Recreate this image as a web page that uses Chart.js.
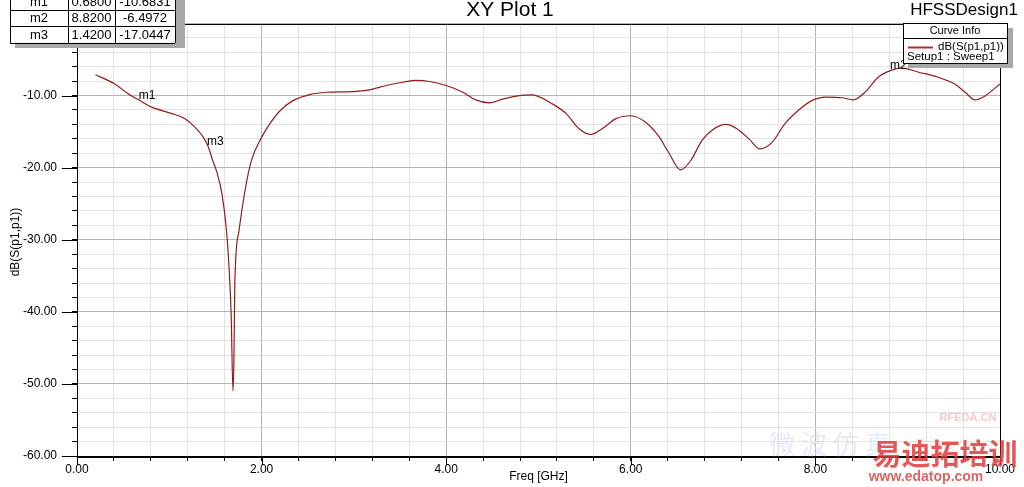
<!DOCTYPE html>
<html>
<head>
<meta charset="utf-8">
<script src="https://cdn.jsdelivr.net/npm/chart.js@4/dist/chart.umd.min.js"></script>
<style>
  body { margin: 0; background: #fff; }
  canvas { display: block; }
</style>
</head>
<body>
<canvas id="xy-plot" width="1024" height="487"></canvas>
<script>
// S11 curve
const freqGHz = [0.20, 0.41, 0.55, 0.68, 0.81, 1.03, 1.17, 1.28, 1.37, 1.42, 1.47, 1.51, 1.57, 1.62, 1.655, 1.67, 1.69, 1.70, 1.71, 1.755, 1.82, 1.89, 2.00, 2.09, 2.20, 2.34, 2.52, 2.70, 2.99, 3.17, 3.35, 3.53, 3.67, 3.82, 4.00, 4.18, 4.32, 4.47, 4.61, 4.79, 4.93, 5.15, 5.30, 5.44, 5.57, 5.69, 5.84, 6.00, 6.16, 6.30, 6.41, 6.54, 6.65, 6.77, 6.88, 7.03, 7.15, 7.28, 7.40, 7.53, 7.67, 7.82, 7.96, 8.11, 8.29, 8.41, 8.54, 8.68, 8.82, 8.93, 9.12, 9.33, 9.51, 9.62, 9.73, 9.82, 10.0]
const s11dB = [-7.1, -8.4, -9.7, -10.68, -11.6, -12.5, -13.2, -14.4, -15.8, -17.04, -19.0, -20.4, -23.6, -28.75, -35.7, -40.3, -51.0, -46.8, -36.0, -28.75, -23.2, -19.0, -15.8, -13.9, -12.1, -10.7, -9.86, -9.54, -9.44, -9.2, -8.6, -8.15, -7.9, -8.05, -8.6, -9.54, -10.6, -11.0, -10.5, -10.0, -9.9, -11.15, -12.5, -14.6, -15.4, -14.6, -13.2, -12.8, -13.7, -15.6, -17.9, -20.3, -19.0, -16.25, -14.8, -14.0, -14.6, -16.0, -17.4, -16.5, -13.9, -12.0, -10.7, -10.2, -10.3, -10.6, -9.5, -7.45, -6.5, -6.15, -6.76, -7.45, -8.4, -9.5, -10.6, -10.2, -8.4]

// markers
const markerNames = ['m1', 'm2', 'm3']
const markerFreq = [0.68, 8.82, 1.42]
const markerDB = [-10.6831, -6.4972, -17.0447]

const FONT = '"Liberation Sans", Arial, sans-serif'
const curveColor = '#931c1c'

const isMajorX = v => Math.abs(v / 2 - Math.round(v / 2)) < 1e-6
const isMajorY = v => Math.abs(v / 10 - Math.round(v / 10)) < 1e-6

const overlay = {
    id: 'overlay',
    afterDraw(chart) {
        const { ctx, chartArea: a, scales: { x, y } } = chart
        ctx.save()

        // frame + long major ticks
        ctx.strokeStyle = '#000'
        ctx.lineWidth = 1
        ctx.strokeRect(Math.round(a.left) + 0.5, Math.round(a.top) + 0.5, Math.round(a.right - a.left), Math.round(a.bottom - a.top))
        ctx.beginPath()
        for (let v = 0; v <= 10; v += 2) {
            const px = Math.round(x.getPixelForValue(v)) + 0.5
            ctx.moveTo(px, a.bottom)
            ctx.lineTo(px, a.bottom + 9)
        }
        for (let v = -60; v <= 0; v += 10) {
            const py = Math.round(y.getPixelForValue(v)) + 0.5
            ctx.moveTo(a.left - 15, py)
            ctx.lineTo(a.left, py)
        }
        ctx.stroke()

        // marker labels
        ctx.fillStyle = '#000'
        ctx.font = '12px ' + FONT
        ctx.textAlign = 'left'
        ctx.textBaseline = 'bottom'
        markerNames.forEach((n, i) => {
            ctx.fillText(n, x.getPixelForValue(markerFreq[i]) - 1, y.getPixelForValue(markerDB[i]) + 1)
        })

        // titles
        ctx.textBaseline = 'middle'
        ctx.textAlign = 'center'
        ctx.font = '21px ' + FONT
        ctx.fillText('XY Plot 1', 510, 10)
        ctx.font = '17px ' + FONT
        ctx.fillText('HFSSDesign1', 964, 10)
        ctx.font = '12px ' + FONT
        ctx.fillText('Freq [GHz]', (a.left + a.right) / 2, 477)
        ctx.save()
        ctx.translate(16, 242)
        ctx.rotate(-Math.PI / 2)
        ctx.fillText('dB(S(p1,p1))', 0, 0)
        ctx.restore()

        // watermark
        ctx.globalAlpha = 0.7
        ctx.fillStyle = '#d8e2f2'
        ctx.font = '26px "Noto Sans CJK SC"'
        ctx.fillText('微 波 仿 真', 830, 444)
        ctx.fillStyle = '#f2b0b0'
        ctx.font = 'bold 11px ' + FONT
        ctx.fillText('RFEDA.CN', 968, 418)
        ctx.globalAlpha = 0.85
        ctx.fillStyle = '#e23a3a'
        ctx.font = 'bold 29px "Noto Sans CJK SC"'
        ctx.fillText('易迪拓培训', 945, 454)
        ctx.font = 'bold 14px ' + FONT
        ctx.fillStyle = '#d84848'
        ctx.fillText('www.edatop.com', 926, 477)
        ctx.globalAlpha = 1

        // curve info box
        ctx.fillStyle = '#a8a8a8'
        ctx.fillRect(908, 28, 105, 40)
        ctx.fillStyle = '#fff'
        ctx.fillRect(903, 23, 105, 40)
        ctx.strokeStyle = '#000'
        ctx.strokeRect(903.5, 23.5, 104, 40)
        ctx.beginPath()
        ctx.moveTo(903, 38.5)
        ctx.lineTo(1008, 38.5)
        ctx.stroke()
        ctx.fillStyle = '#000'
        ctx.font = '11px ' + FONT
        ctx.textAlign = 'center'
        ctx.fillText('Curve Info', 955, 31)
        ctx.textAlign = 'left'
        ctx.font = '11.5px ' + FONT
        ctx.fillText('dB(S(p1,p1))', 938, 47)
        ctx.fillText('Setup1 : Sweep1', 907, 57)
        ctx.strokeStyle = '#a8303c'
        ctx.lineWidth = 2
        ctx.beginPath()
        ctx.moveTo(908, 47.5)
        ctx.lineTo(933, 47.5)
        ctx.stroke()

        // marker table
        const tx = 10, cols = [10, 68, 115, 175], rowTop = -7, rowH = 16.6
        ctx.fillStyle = '#a8a8a8'
        ctx.fillRect(tx + 5, 0, 170, 48)
        ctx.fillStyle = '#fff'
        ctx.fillRect(tx, rowTop, 165, rowH * 3)
        ctx.strokeStyle = '#000'
        ctx.lineWidth = 1
        ctx.beginPath()
        for (let r = 0; r <= 3; r++) {
            const yy = Math.round(rowTop + r * rowH) + 0.5
            ctx.moveTo(tx, yy)
            ctx.lineTo(175, yy)
        }
        cols.forEach(c => {
            ctx.moveTo(c + 0.5, rowTop)
            ctx.lineTo(c + 0.5, rowTop + rowH * 3)
        })
        ctx.stroke()
        ctx.fillStyle = '#000'
        ctx.font = '13px ' + FONT
        ctx.textAlign = 'center'
        markerNames.forEach((n, i) => {
            const cy = rowTop + rowH * i + rowH / 2 + 1
            ctx.fillText(n, (cols[0] + cols[1]) / 2, cy)
            ctx.fillText(markerFreq[i].toFixed(4), (cols[1] + cols[2]) / 2, cy)
            ctx.fillText(markerDB[i].toFixed(4), (cols[2] + cols[3]) / 2, cy)
        })
        ctx.restore()
    }
}

const ctx = document.getElementById('xy-plot').getContext('2d')
const myChart = new Chart(ctx, {
    type: 'line',
    data: {
        datasets: [{
            label: 'dB(S(p1,p1))',
            data: freqGHz.map((f, i) => ({ x: f, y: s11dB[i] })),
            borderColor: curveColor,
            borderWidth: 1.2,
            pointRadius: 0,
            cubicInterpolationMode: 'monotone',
            fill: false
        }]
    },
    options: {
        responsive: false,
        animation: false,
        devicePixelRatio: 1,
        layout: { padding: { top: 23.5, right: 24, left: 0, bottom: 0 } },
        plugins: {
            legend: { display: false },
            title: { display: false },
            tooltip: { enabled: false }
        },
        scales: {
            x: {
                type: 'linear',
                min: 0,
                max: 10,
                afterFit: s => { s.height = 31 },
                ticks: {
                    stepSize: 0.4,
                    autoSkip: false,
                    maxRotation: 0,
                    padding: 1,
                    color: '#000',
                    font: { family: FONT, size: 12 },
                    callback: v => isMajorX(v) ? v.toFixed(2) : ''
                },
                grid: {
                    color: c => isMajorX(c.tick.value) ? '#b4b4b4' : '#e2e2e2',
                    tickColor: '#000',
                    tickLength: 5
                },
                border: { color: '#000', width: 1 }
            },
            y: {
                min: -60,
                max: 0,
                afterFit: s => { s.width = 77 },
                ticks: {
                    stepSize: 2,
                    autoSkip: false,
                    padding: 15,
                    color: '#000',
                    font: { family: FONT, size: 12 },
                    callback: v => isMajorY(v) ? v.toFixed(2) : ''
                },
                grid: {
                    color: c => isMajorY(c.tick.value) ? '#b4b4b4' : '#e2e2e2',
                    tickColor: '#000',
                    tickLength: 5
                },
                border: { color: '#000', width: 1 }
            }
        }
    },
    plugins: [overlay]
})
</script>
</body>
</html>
